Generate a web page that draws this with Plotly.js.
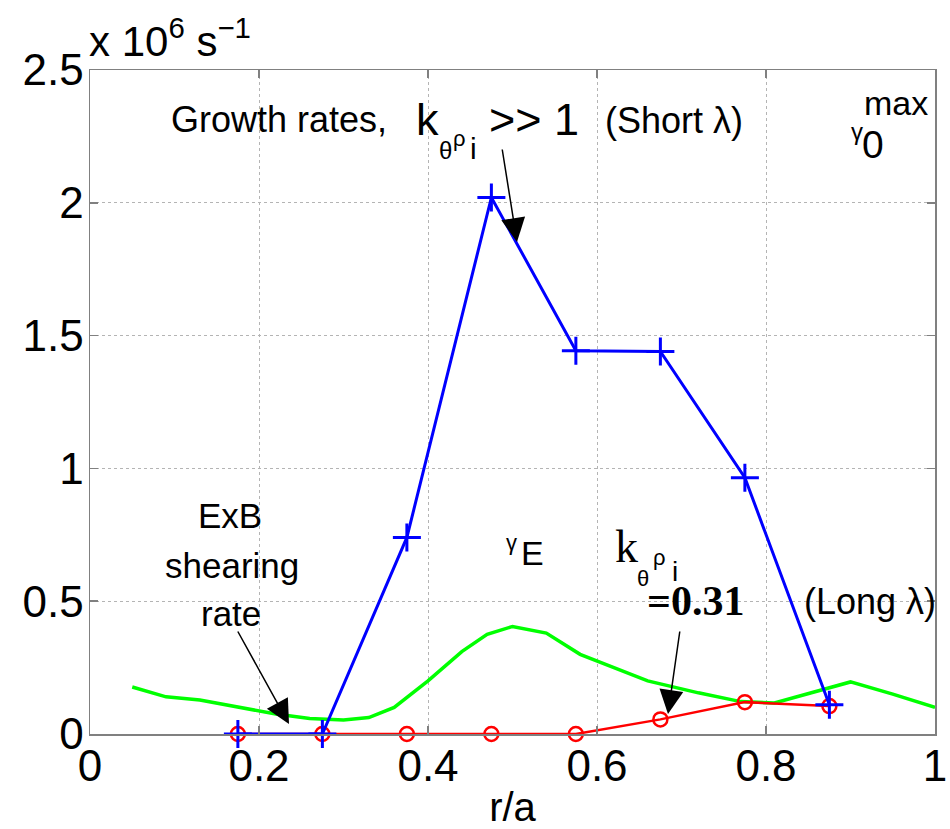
<!DOCTYPE html>
<html>
<head>
<meta charset="utf-8">
<script src="https://cdn.plot.ly/plotly-3.0.1.min.js"></script>
<style>
  html, body { margin: 0; padding: 0; background: #fff; }
  #chart { width: 950px; height: 829px; }
</style>
</head>
<body>
<div id="chart"></div>
<script>
// Radial positions (r/a) of the stability scan
const radius = [0.175, 0.275, 0.375, 0.475, 0.575, 0.675, 0.775, 0.875];

// Maximum linear growth rates, units of 10^6 s^-1
const gammaShort = [0, 0, 0.74, 2.02, 1.443, 1.44, 0.965, 0.11];   // k_theta rho_i >> 1
const gammaLong  = [0, 0, 0, 0, 0, 0.055, 0.12, 0.105];           // k_theta rho_i = 0.31

// ExB shearing rate profile
const shearR = [0.05, 0.09, 0.13, 0.18, 0.22, 0.26, 0.30, 0.33, 0.36, 0.40, 0.44, 0.47,
                0.50, 0.54, 0.58, 0.62, 0.66, 0.72, 0.77, 0.81, 0.86, 0.90, 0.95, 1.0];
const shearRate = [0.177, 0.14, 0.128, 0.10, 0.075, 0.058, 0.053, 0.062, 0.10, 0.20, 0.31, 0.375,
                   0.405, 0.38, 0.30, 0.25, 0.20, 0.155, 0.122, 0.117, 0.16, 0.196, 0.15, 0.10];

// Axis ticks
const xTicks = [0, 0.2, 0.4, 0.6, 0.8, 1];
const xTickText = ['0', '0.2', '0.4', '0.6', '0.8', '1'];
const yTicks = [0, 0.5, 1, 1.5, 2, 2.5];
const yTickText = ['0', '0.5', '1', '1.5', '2', '2.5'];

const SANS = 'Liberation Sans, Arial, Helvetica, sans-serif';
const SERIF = 'Liberation Serif, Times New Roman, serif';

// plot box in page pixels, used to place the free-floating labels
const BOX = { left: 90, right: 935, top: 70, bottom: 734 };
const px = (u, v) => ({
  x: (u - BOX.left) / (BOX.right - BOX.left),
  y: (BOX.bottom - v) / (BOX.bottom - BOX.top)
});

const traces = [
  {
    x: shearR, y: shearRate, type: 'scatter', mode: 'lines', cliponaxis: false,
    line: { color: '#00ff00', width: 3.5 }, hoverinfo: 'skip'
  },
  {
    x: radius, y: gammaLong, type: 'scatter', mode: 'lines+markers', cliponaxis: false,
    line: { color: '#ff0000', width: 2.5 },
    marker: { symbol: 'circle-open', size: 14, color: '#ff0000', line: { width: 2.5, color: '#ff0000' } }
  },
  {
    x: radius, y: gammaShort, type: 'scatter', mode: 'lines+markers', cliponaxis: false,
    line: { color: '#0000ff', width: 3 },
    marker: { symbol: 'cross-thin-open', size: 20, color: '#0000ff', line: { width: 3, color: '#0000ff' } }
  }
];

// text label at page pixel (u, v)
const label = (u, v, text, size, opts) => {
  const p = px(u, v);
  const o = opts || {};
  return {
    xref: 'paper', yref: 'paper', x: p.x, y: p.y, text: text, showarrow: false,
    font: { family: o.family || SANS, size: size, color: '#000' },
    xanchor: o.xanchor || 'center', yanchor: 'middle', borderpad: 0
  };
};

// arrow from tail (u0, v0) to head (u1, v1), page pixels
const arrow = (u0, v0, u1, v1) => {
  const h = px(u1, v1), t = px(u0, v0);
  return {
    xref: 'paper', yref: 'paper', axref: 'paper', ayref: 'paper',
    x: h.x, y: h.y, ax: t.x, ay: t.y,
    text: '', showarrow: true, arrowhead: 2, arrowsize: 3.2, arrowwidth: 1.5, arrowcolor: '#000'
  };
};

const annotations = [
  // unit multiplier above the y axis
  { xref: 'paper', yref: 'paper', x: -0.004, y: 1.004, xanchor: 'left', yanchor: 'bottom',
    text: 'x 10<sup>6</sup> s<sup>\u22121</sup>', showarrow: false,
    font: { family: SANS, size: 42, color: '#000' } },

  label(279, 119, 'Growth rates,', 36),

  // k_theta rho_i >> 1
  label(415, 119, 'k', 45, { xanchor: 'left' }),
  label(445, 150, '\u03b8', 24),
  label(459, 139, '\u03c1', 22),
  label(473, 148, 'i', 30),
  label(488, 119, '&gt;&gt; 1', 45, { xanchor: 'left' }),

  label(674, 120, '(Short \u03bb)', 36),

  // gamma_0^max
  label(896, 103, 'max', 34),
  label(857, 131, '\u03b3', 24),
  label(873, 144, '0', 39),

  label(230, 515, 'ExB', 35),
  label(232, 565, 'shearing', 35),
  label(231, 613, 'rate', 35),

  // gamma_E
  label(511, 542, '\u03b3', 22),
  label(532, 553, 'E', 34),

  // k_theta rho_i = 0.31
  label(614, 546, 'k', 46, { xanchor: 'left', family: SERIF }),
  label(643, 578, '\u03b8', 22),
  label(659, 557, '\u03c1', 22),
  label(675, 571, 'i', 28),
  label(695, 601, '<b>=0.31</b>', 42, { family: SERIF }),

  label(870, 601, '(Long \u03bb)', 36),

  arrow(502, 148, 517, 242),
  arrow(237, 630, 289, 724),
  arrow(680, 630, 668, 714)
];

const axisBase = {
  showline: true, linecolor: '#808080', linewidth: 1.5, mirror: 'ticks',
  ticks: 'inside', ticklen: 8, tickwidth: 1.5, tickcolor: '#808080',
  showgrid: true, gridcolor: '#b4b4b4', griddash: 'dot', gridwidth: 1,
  zeroline: false, tickfont: { family: SANS, size: 44, color: '#000' }
};

const layout = {
  width: 950, height: 829,
  margin: { l: 90, r: 15, t: 70, b: 95 },
  paper_bgcolor: '#fff', plot_bgcolor: '#fff',
  showlegend: false,
  xaxis: Object.assign({}, axisBase, {
    range: [0, 1], tickvals: xTicks, ticktext: xTickText, ticklabelstandoff: -7,
    title: { text: 'r/a', font: { family: SANS, size: 40, color: '#000' }, standoff: 12 }
  }),
  yaxis: Object.assign({}, axisBase, {
    range: [0, 2.5], tickvals: yTicks, ticktext: yTickText, ticklabelstandoff: -4
  }),
  annotations: annotations
};

Plotly.newPlot('chart', traces, layout, { displayModeBar: false, staticPlot: true });
</script>
</body>
</html>
